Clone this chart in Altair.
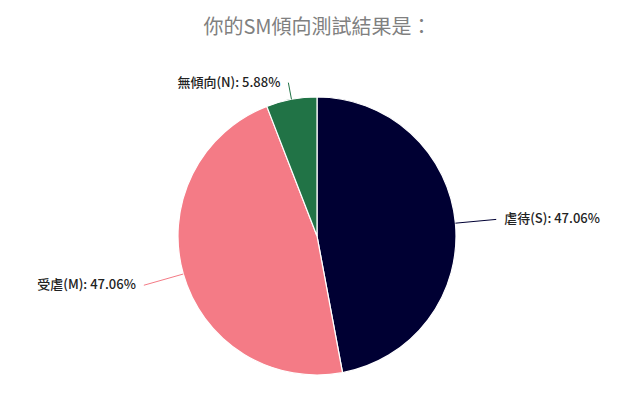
import altair as alt
import numpy as np
import pandas as pd

# data
categories = ["虐待(S)", "受虐(M)", "無傾向(N)"]
percents = [47.06, 47.06, 5.88]
colors = ["#000033", "#F47B86", "#217346"]

# layout
W, H = 619, 336
CX, CY = 309, 168          # pie centre inside the view (pixels)
R = 139                    # pie radius
LEAD = [180, 180, 156]     # where each leader line ends
GAP = 8
FONT = "Noto Sans CJK TC"

df = pd.DataFrame({"category": categories, "percent": percents})
df["order"] = range(len(df))
frac = df["percent"] / df["percent"].sum()
mid = (frac.cumsum() - frac / 2) * 2 * np.pi
df["ex"] = R * np.sin(mid)
df["ey"] = R * np.cos(mid)
df["lx"] = np.array(LEAD) * np.sin(mid)
df["ly"] = np.array(LEAD) * np.cos(mid)
df["side"] = np.where(np.sin(mid) > 0, "right", "left")
df["tx"] = df["lx"] + np.where(df["side"] == "right", GAP, -GAP)
df["label"] = [f"{c}: {p:.2f}%" for c, p in zip(categories, percents)]
df["zero"] = 0.0

xs = alt.Scale(domain=[-CX, W - CX])
ys = alt.Scale(domain=[CY - H, CY])
col = alt.Color("category:N", scale=alt.Scale(domain=categories, range=colors), legend=None)

base = alt.Chart(df)

pie = base.mark_arc(outerRadius=R, stroke="white", strokeWidth=1.2).encode(
    x=alt.X("zero:Q", scale=xs, axis=None),
    y=alt.Y("zero:Q", scale=ys, axis=None),
    theta=alt.Theta("percent:Q", stack=True),
    order=alt.Order("order:Q"),
    color=col,
)

leaders = base.mark_rule(strokeWidth=1).encode(
    x=alt.X("ex:Q", scale=xs, axis=None),
    y=alt.Y("ey:Q", scale=ys, axis=None),
    x2="lx:Q",
    y2="ly:Q",
    color=col,
)

def labels(side, align):
    return base.transform_filter(alt.datum.side == side).mark_text(
        align=align, baseline="middle", font=FONT, fontSize=13, fontWeight=500, color="#222222"
    ).encode(
        x=alt.X("tx:Q", scale=xs, axis=None),
        y=alt.Y("ly:Q", scale=ys, axis=None),
        text="label:N",
    )

chart = alt.layer(pie, leaders, labels("right", "left"), labels("left", "right")).properties(
    width=W,
    height=H,
    autosize=alt.AutoSizeParams(type="none"),
    padding={"left": 0, "top": 60, "right": 0, "bottom": 0},
    title=alt.Title(
        "你的SM傾向測試結果是：",
        font=FONT,
        fontSize=20,
        fontWeight="normal",
        color="#808080",
        anchor="middle",
        offset=30,
    ),
).configure_view(stroke=None)

chart.save("out.html", embed_options={"renderer": "svg", "actions": False})
